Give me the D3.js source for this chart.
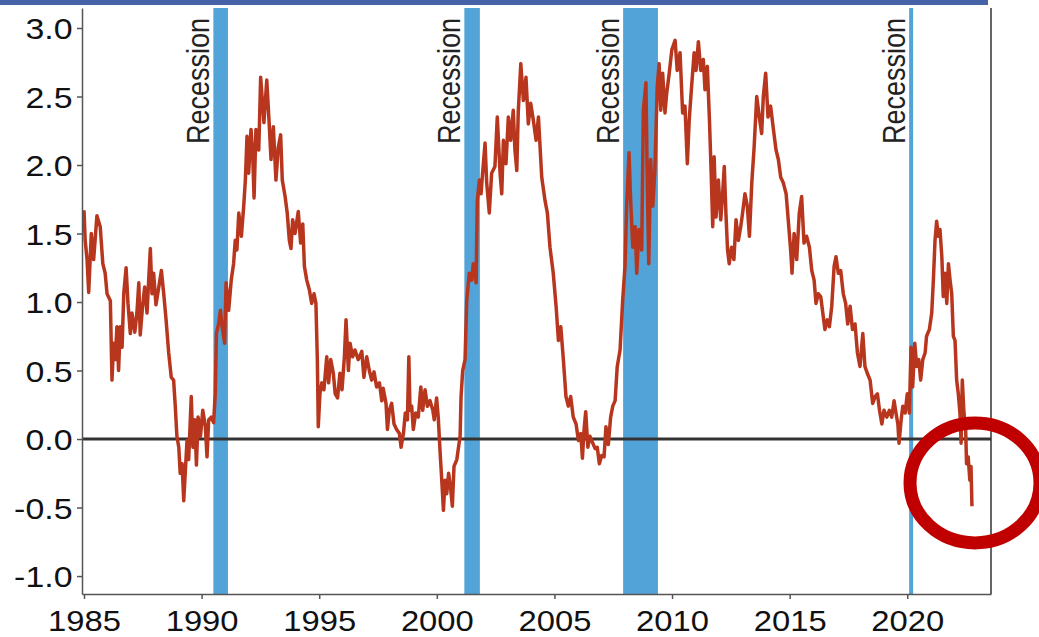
<!DOCTYPE html>
<html>
<head>
<meta charset="utf-8">
<script src="https://cdn.jsdelivr.net/npm/d3@7"></script>
<style>
  html, body { margin: 0; padding: 0; background: #fff; }
  svg { display: block; font-family: "Liberation Sans", Arial, sans-serif; }
</style>
</head>
<body>
<svg id="chart" width="1039" height="637"></svg>
<script>
// spread 10 ans - 2 ans
const dates = [
  1985.00,1985.05,1985.13,1985.20,1985.31,1985.41,1985.55,1985.69,1985.80,1985.90,1985.98,
  1986.12,1986.19,1986.26,1986.33,1986.40,1986.47,1986.54,1986.62,1986.69,1986.79,1986.87,1986.97,
  1987.04,1987.16,1987.25,1987.33,1987.39,1987.49,1987.58,1987.68,1987.75,1987.82,1987.89,1987.96,
  1988.06,1988.18,1988.29,1988.39,1988.49,1988.60,1988.71,1988.81,1988.88,1988.95,
  1989.03,1989.09,1989.17,1989.24,1989.31,1989.38,1989.45,1989.56,1989.63,1989.71,1989.78,1989.85,1989.95,
  1990.05,1990.16,1990.23,1990.30,1990.41,1990.51,1990.58,1990.63,1990.73,1990.80,1990.87,1990.98,
  1991.04,1991.15,1991.26,1991.36,1991.43,1991.50,1991.58,1991.69,1991.79,1991.86,1991.93,
  1992.00,1992.10,1992.17,1992.23,1992.31,1992.43,1992.51,1992.65,1992.77,1992.88,1992.95,
  1993.05,1993.16,1993.26,1993.36,1993.43,1993.55,1993.64,1993.73,1993.80,1993.87,1993.97,
  1994.11,1994.21,1994.30,1994.37,1994.47,1994.58,1994.68,1994.78,1994.86,1994.92,1994.96,
  1995.03,1995.11,1995.20,1995.32,1995.40,1995.49,1995.60,1995.68,1995.78,1995.88,1995.97,
  1996.07,1996.14,1996.24,1996.31,1996.42,1996.52,1996.66,1996.81,1996.90,
  1997.02,1997.13,1997.23,1997.33,1997.44,1997.56,1997.66,1997.72,1997.84,1997.90,1997.98,
  1998.08,1998.18,1998.29,1998.41,1998.48,1998.58,1998.66,1998.75,1998.81,1998.86,1998.93,
  1999.00,1999.10,1999.21,1999.32,1999.40,1999.50,1999.60,1999.71,1999.83,1999.89,1999.99,
  2000.06,2000.14,2000.21,2000.28,2000.35,2000.42,2000.50,2000.58,2000.66,2000.73,2000.85,2000.93,2000.99,
  2001.03,2001.10,2001.20,2001.27,2001.38,2001.48,2001.55,2001.67,2001.72,2001.81,2001.88,2001.95,
  2002.05,2002.12,2002.23,2002.33,2002.47,2002.57,2002.69,2002.76,2002.83,2002.94,
  2003.04,2003.14,2003.25,2003.32,2003.40,2003.46,2003.57,2003.68,2003.79,2003.89,2003.99,
  2004.10,2004.22,2004.32,2004.46,2004.60,2004.70,2004.81,2004.95,
  2005.07,2005.17,2005.27,2005.38,2005.49,2005.59,2005.69,2005.80,2005.92,
  2006.02,2006.12,2006.19,2006.26,2006.33,2006.42,2006.51,2006.63,2006.73,2006.82,2006.91,
  2007.01,2007.11,2007.19,2007.29,2007.39,2007.48,2007.58,2007.67,2007.79,2007.90,
  2008.00,2008.07,2008.17,2008.24,2008.33,2008.43,2008.50,2008.59,2008.71,2008.78,2008.89,2008.95,
  2009.01,2009.09,2009.18,2009.27,2009.37,2009.45,2009.52,2009.60,2009.70,2009.77,2009.88,2009.99,
  2010.13,2010.22,2010.34,2010.45,2010.55,2010.65,2010.73,2010.83,2010.94,
  2011.02,2011.12,2011.22,2011.33,2011.40,2011.50,2011.59,2011.66,2011.73,2011.79,2011.87,2011.97,
  2012.07,2012.15,2012.22,2012.29,2012.36,2012.43,2012.53,2012.63,2012.72,2012.82,2012.92,
  2013.00,2013.10,2013.20,2013.29,2013.39,2013.49,2013.60,2013.71,2013.81,2013.88,2013.98,
  2014.08,2014.19,2014.31,2014.42,2014.52,2014.62,2014.73,2014.85,2014.94,
  2015.05,2015.10,2015.19,2015.30,2015.41,2015.51,2015.61,2015.72,2015.84,2015.94,
  2016.04,2016.12,2016.22,2016.32,2016.41,2016.50,2016.60,2016.69,2016.79,2016.89,2016.97,
  2017.07,2017.17,2017.28,2017.38,2017.47,2017.57,2017.67,2017.78,2017.88,2017.99,
  2018.11,2018.20,2018.30,2018.42,2018.53,2018.63,2018.73,2018.82,2018.92,
  2019.01,2019.13,2019.24,2019.34,2019.44,2019.52,2019.60,2019.65,2019.74,2019.81,2019.91,
  2020.00,2020.09,2020.16,2020.23,2020.32,2020.40,2020.49,2020.57,2020.66,2020.76,2020.82,2020.94,
  2021.04,2021.11,2021.18,2021.25,2021.32,2021.39,2021.47,2021.53,2021.61,2021.68,2021.75,2021.82,2021.89,2021.96,
  2022.03,2022.10,2022.17,2022.24,2022.29,2022.34,2022.41,2022.48,2022.52,2022.59,2022.66,2022.71,2022.75
];
const spread = [
  1.67,1.45,1.31,1.07,1.50,1.31,1.63,1.55,1.28,1.21,1.06,
  1.01,0.43,0.70,0.58,0.82,0.50,0.82,0.67,1.06,1.25,0.99,0.77,
  0.92,0.78,0.92,1.14,0.76,0.97,1.11,0.92,1.16,1.39,1.06,1.21,
  0.98,1.11,1.23,1.06,0.87,0.63,0.45,0.43,0.24,0.02,
  -0.06,-0.25,-0.18,-0.45,-0.23,-0.01,-0.15,0.31,-0.06,0.14,-0.19,0.16,0.02,
  0.21,0.09,-0.13,0.14,0.16,0.12,0.33,0.77,0.85,0.94,0.82,0.70,
  1.14,0.94,1.16,1.28,1.45,1.38,1.65,1.48,1.70,1.89,2.21,
  1.94,2.26,2.09,1.76,2.26,2.11,2.64,2.31,2.62,2.28,2.04,
  2.28,1.89,2.13,2.22,1.89,1.77,1.65,1.45,1.39,1.60,1.50,
  1.66,1.43,1.57,1.26,1.16,1.09,0.99,1.06,0.99,0.58,0.09,
  0.33,0.41,0.36,0.60,0.41,0.58,0.48,0.33,0.30,0.48,0.36,
  0.60,0.87,0.50,0.70,0.60,0.65,0.58,0.64,0.45,
  0.60,0.50,0.43,0.49,0.38,0.41,0.28,0.37,0.26,0.07,0.21,
  0.26,0.11,0.07,0.04,-0.06,0.04,0.19,0.14,0.60,0.21,0.24,
  0.07,0.19,0.16,0.38,0.21,0.36,0.24,0.28,0.21,0.14,0.30,
  0.16,-0.10,-0.30,-0.52,-0.30,-0.40,-0.25,-0.35,-0.49,-0.20,-0.15,-0.05,0.02,
  0.31,0.50,0.58,1.01,1.21,1.16,1.28,1.14,1.74,1.89,1.79,1.95,
  2.16,1.87,1.65,1.94,1.99,2.35,1.94,1.79,2.18,2.01,
  2.35,2.18,2.40,2.11,1.96,2.38,2.74,2.47,2.64,2.30,2.45,
  2.33,2.18,2.35,1.91,1.74,1.65,1.40,1.21,
  0.97,0.72,0.82,0.58,0.31,0.24,0.31,0.16,0.11,
  -0.01,0.04,-0.14,0.07,0.20,-0.06,0.02,-0.03,-0.07,-0.06,-0.18,
  -0.12,-0.13,0.09,-0.04,0.16,0.24,0.28,0.53,0.65,1.01,
  1.26,1.70,2.09,1.74,1.40,1.55,1.21,1.53,1.38,2.40,2.60,1.84,
  1.28,2.04,1.70,1.96,2.57,2.74,2.40,2.67,2.38,2.52,2.67,2.84,
  2.91,2.69,2.82,2.38,2.43,2.01,2.33,2.57,2.82,
  2.69,2.90,2.69,2.77,2.55,2.72,2.33,1.96,1.55,2.06,1.62,1.89,
  1.60,1.79,1.99,1.65,1.38,1.28,1.40,1.31,1.60,1.45,1.55,
  1.65,1.79,1.70,1.48,1.87,2.13,2.50,2.35,2.23,2.50,2.67,
  2.35,2.43,2.26,2.11,2.04,1.91,1.87,1.79,1.60,
  1.36,1.21,1.50,1.31,1.65,1.77,1.43,1.48,1.40,1.23,
  1.16,0.99,1.06,1.04,0.92,0.80,0.87,0.82,0.97,1.26,1.33,
  1.21,1.23,1.06,0.99,0.84,0.97,0.80,0.84,0.63,0.53,
  0.77,0.53,0.48,0.43,0.26,0.31,0.33,0.21,0.11,
  0.21,0.16,0.21,0.16,0.28,0.19,0.11,-0.03,0.14,0.24,0.19,
  0.33,0.19,0.67,0.38,0.70,0.53,0.58,0.43,0.58,0.63,0.75,0.80,
  0.92,1.16,1.45,1.59,1.48,1.53,1.33,1.04,1.21,0.99,1.28,1.16,1.06,0.75,
  0.72,0.43,0.33,0.19,-0.03,0.43,0.19,0.09,-0.18,-0.13,-0.30,-0.20,-0.49
];

const recessionStart = [1990.5, 2001.17, 2007.92, 2020.08];
const recessionEnd   = [1991.12, 2001.83, 2009.40, 2020.25];
const recessionText  = "Recession";

const xTicks = [1985, 1990, 1995, 2000, 2005, 2010, 2015, 2020];
const yTicks = [-1.0, -0.5, 0.0, 0.5, 1.0, 1.5, 2.0, 2.5, 3.0];

const svg = d3.select("#chart");
const W = +svg.attr("width");
const H = +svg.attr("height");
const margin = { top: 8, right: 48, bottom: 43, left: 82 };
const STRETCH = 1.13; // texte un peu élargi comme sur l'original

const x = d3.scaleLinear()
  .domain([1984.915, 2023.56])
  .range([margin.left, W - margin.right]);

const y = d3.scaleLinear()
  .domain([-1.131, 3.146])
  .range([H - margin.bottom, margin.top]);

// bandes de récession
const rec = recessionStart.map((s, i) => ({ s: s, e: recessionEnd[i] }));

svg.append("g")
  .selectAll("rect")
  .data(rec)
  .enter()
  .append("rect")
  .attr("x", d => x(d.s))
  .attr("y", margin.top)
  .attr("width", d => x(d.e) - x(d.s))
  .attr("height", H - margin.bottom - margin.top)
  .attr("fill", "#52a3d7");

svg.append("g")
  .selectAll("text")
  .data(rec)
  .enter()
  .append("text")
  .attr("transform", d => `translate(${x(d.s) - 4},18) scale(${STRETCH},1) rotate(-90)`)
  .attr("text-anchor", "end")
  .style("font-size", "27px")
  .attr("fill", "#222")
  .text(recessionText);

// ligne zéro
svg.append("line")
  .attr("x1", x.range()[0])
  .attr("x2", x.range()[1])
  .attr("y1", y(0))
  .attr("y2", y(0))
  .attr("stroke", "#333")
  .attr("stroke-width", 3);

// courbe
const pts = dates.map((d, i) => ({ t: d, v: spread[i] }));
const line = d3.line().x(d => x(d.t)).y(d => y(d.v));

svg.append("path")
  .datum(pts)
  .attr("d", line)
  .attr("fill", "none")
  .attr("stroke", "#b8361e")
  .attr("stroke-width", 3.5)
  .attr("stroke-linejoin", "round");

// axes
const gx = svg.append("g")
  .attr("transform", `translate(0,${H - margin.bottom})`)
  .call(d3.axisBottom(x).tickValues(xTicks).tickFormat(d3.format("d")).tickSize(5).tickSizeOuter(0));

gx.selectAll("text")
  .attr("x", null).attr("y", null).attr("dy", null)
  .attr("transform", `translate(0,36.5) scale(${STRETCH},1)`)
  .attr("fill", "#111")
  .style("font-size", "29px");

const gy = svg.append("g")
  .attr("transform", `translate(${margin.left},0)`)
  .call(d3.axisLeft(y).tickValues(yTicks).tickFormat(d => d.toFixed(1)).tickSize(5).tickSizeOuter(0));

gy.selectAll("text")
  .attr("x", null).attr("dy", null)
  .attr("transform", `translate(-9.5,10.7) scale(${STRETCH},1)`)
  .attr("fill", "#111")
  .style("font-size", "30px");

svg.selectAll(".domain").attr("stroke", "#555").attr("stroke-width", 1.5);
svg.selectAll(".tick line").attr("stroke", "#555").attr("stroke-width", 1.5);

// cadre droit
svg.append("line")
  .attr("x1", x.range()[1])
  .attr("x2", x.range()[1])
  .attr("y1", margin.top)
  .attr("y2", H - margin.bottom)
  .attr("stroke", "#333")
  .attr("stroke-width", 1.5);

// cercle rouge (annotation)
svg.append("ellipse")
  .attr("cx", x(2022.88))
  .attr("cy", y(-0.32))
  .attr("rx", 65)
  .attr("ry", 60)
  .attr("fill", "none")
  .attr("stroke", "#c00000")
  .attr("stroke-width", 13);

// bandeau bleu en haut
svg.append("rect")
  .attr("x", 0)
  .attr("y", 0)
  .attr("width", 988)
  .attr("height", 5)
  .attr("fill", "#4763a8");
</script>
</body>
</html>
